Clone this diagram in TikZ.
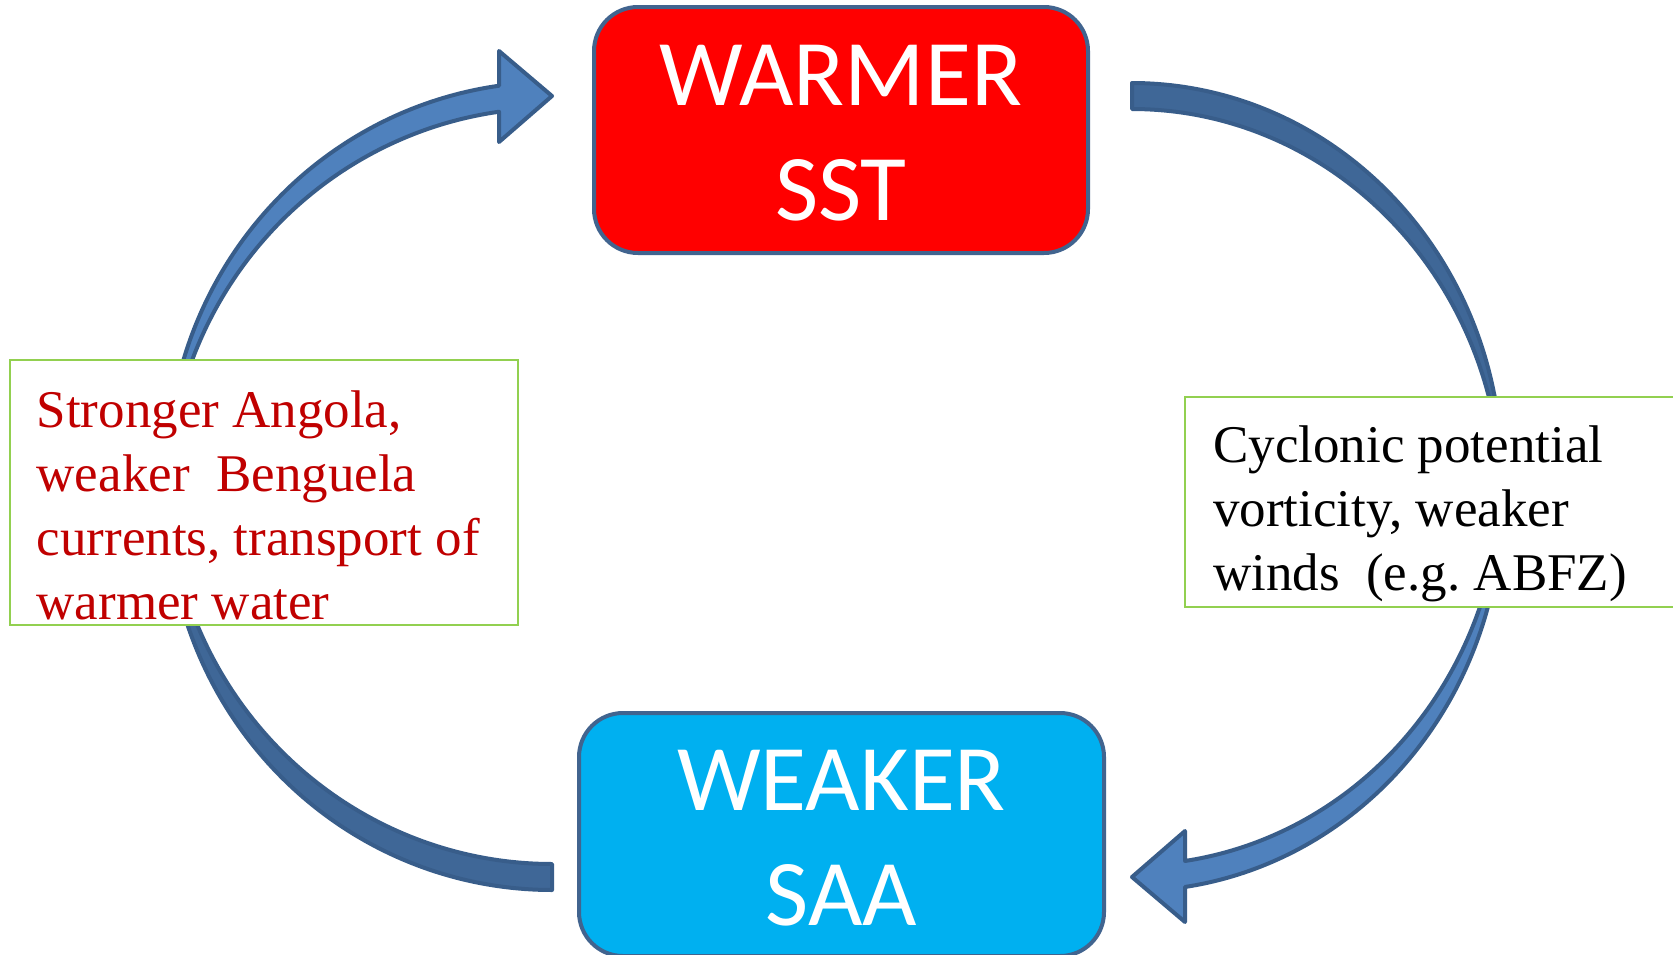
\documentclass[tikz,border=0pt]{standalone}
\usepackage{fontspec}
\setmainfont{Liberation Serif}
\newfontfamily\calibrifont{Carlito}
\frenchspacing
\definecolor{arrowlight}{HTML}{4F81BD}
\definecolor{arrowdark}{HTML}{3F6797}
\definecolor{arrowline}{HTML}{385D8A}
\definecolor{boxline}{HTML}{41648F}
\definecolor{warmred}{HTML}{FF0000}
\definecolor{saablue}{HTML}{00B0F0}
\definecolor{textred}{HTML}{C00000}
\definecolor{greenline}{HTML}{92D050}
\tikzset{
  backpart/.style={fill=arrowdark, draw=arrowline, line width=4pt, line join=round},
  frontpart/.style={fill=arrowlight, draw=arrowline, line width=4pt, line join=round},
  keybox/.style={draw=boxline, line width=4pt, rounded corners=44pt, inner sep=0pt},
  keytext/.style={text=white, align=center, inner sep=0pt, font=\calibrifont\fontsize{94}{115}\selectfont},
  notebox/.style={draw=greenline, fill=white, line width=2pt, inner sep=0pt},
  notetext/.style={align=left, inner sep=0pt, anchor=north west, font=\fontsize{53}{64}\selectfont\frenchspacing}
}
% #1 = horizontal radius of the ribbon ellipses
\newcommand\ribbonarrow[1]{%
  \pgfmathsetmacro\headang{acos(53/#1)}%
  \path[backpart] plot[domain=-90:1.905, samples=90] ({1132+#1*cos(\x)},{474+391*sin(\x)})
     -- plot[domain=-1.905:-90, samples=90] ({1132+#1*cos(\x)},{500+391*sin(\x)}) -- cycle;
  \path[frontpart] plot[domain=1.905:\headang, samples=90] ({1132+#1*cos(\x)},{474+391*sin(\x)})
     -- (1185,831) -- (1132,877) -- (1185,922)
     -- plot[domain=\headang:-1.905, samples=90] ({1132+#1*cos(\x)},{500+391*sin(\x)}) -- cycle;
}
\begin{document}
\begin{tikzpicture}[x=1pt,y=-1pt]
\useasboundingbox (0,0) rectangle (1673,954);
\fill[white] (0,0) rectangle (1673,954);
% right curved arrow (SST -> SAA)
\ribbonarrow{370}
% left curved arrow (SAA -> SST)
\begin{scope}[rotate around={180:(842,486.5)}]
\ribbonarrow{385}
\end{scope}
% key boxes
\node[keybox, fill=warmred, minimum width=494pt, minimum height=246pt] (warm) at (841,130) {};
\node[keytext] (warmtxt) at (841,132.8) {WARMER\\SST};
\node[keybox, fill=saablue, minimum width=525pt, minimum height=243pt] (saa) at (841.5,834.5) {};
\node[keytext] (saatxt) at (841.5,837.8) {WEAKER\\SAA};
% note boxes
\node[notebox, minimum width=508.5pt, minimum height=265pt] (leftbox) at (263.75,492.5) {};
\node[notetext, text=textred] (lefttxt) at (36.5,390.8) {Stronger Angola,\\weaker\ \ Benguela\\currents, transport of\\warmer water};
\node[notebox, minimum width=510pt, minimum height=210pt] (rightbox) at (1440,502) {};
\node[notetext, text=black] (righttxt) at (1213,425.8) {Cyclonic potential\\vorticity, weaker\\winds\ \ (e.g. ABFZ)};
\end{tikzpicture}
\end{document}
